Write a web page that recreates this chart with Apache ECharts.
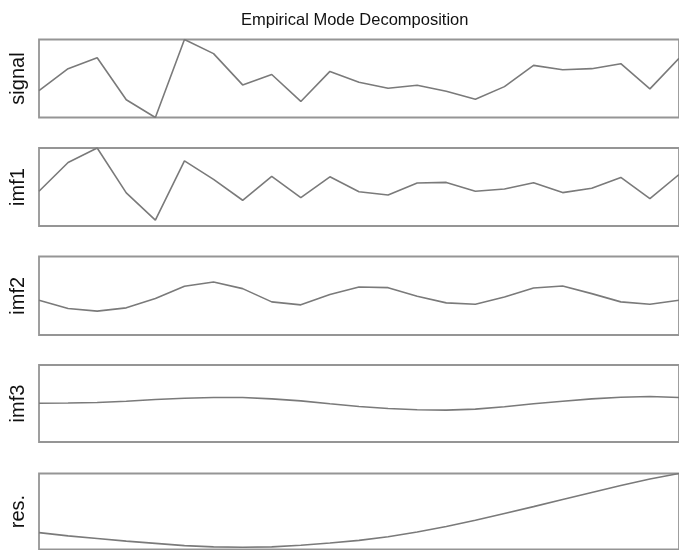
<!DOCTYPE html>
<html>
<head>
<meta charset="utf-8">
<script src="https://cdn.jsdelivr.net/npm/echarts@6/dist/echarts.min.js"></script>
<style>
html,body{margin:0;padding:0;background:#fff;}
#chart{width:679px;height:550px;}
</style>
</head>
<body>
<div id="chart"></div>
<script>
// sample index (x)
var categories = [];
for (var k = 1; k <= 23; k++) categories.push(k);

// values (normalised panel units, 0..1)
var signal = [0.345,0.626,0.767,0.228,0.000,1.000,0.819,0.418,0.551,0.206,0.591,0.453,0.376,0.414,0.337,0.233,0.396,0.668,0.612,0.626,0.690,0.367,0.760];
var imf1   = [0.445,0.814,1.000,0.424,0.076,0.835,0.597,0.330,0.636,0.364,0.631,0.440,0.398,0.551,0.559,0.445,0.475,0.555,0.428,0.483,0.623,0.352,0.660];
var imf2   = [0.443,0.338,0.304,0.346,0.464,0.620,0.675,0.591,0.422,0.384,0.515,0.612,0.603,0.494,0.409,0.392,0.485,0.599,0.624,0.527,0.422,0.392,0.443];
var imf3   = [0.504,0.506,0.513,0.530,0.552,0.569,0.578,0.578,0.560,0.534,0.496,0.461,0.435,0.418,0.414,0.427,0.457,0.496,0.530,0.560,0.582,0.591,0.578];
var residue= [0.222,0.179,0.145,0.110,0.081,0.051,0.034,0.030,0.034,0.055,0.085,0.120,0.167,0.230,0.303,0.385,0.474,0.564,0.658,0.751,0.841,0.927,1.000];

var panelNames = ['signal','imf1','imf2','imf3','res.'];
var panelData = [signal, imf1, imf2, imf3, residue];

var tops = [39.5, 148, 256.5, 365, 473.5];
var heights = [78, 78, 78.5, 77, 76];

var grids = [], xAxes = [], yAxes = [], series = [];
for (var p = 0; p < 5; p++) {
  grids.push({
    left: 36, width: 648, top: tops[p], height: heights[p],
    show: true, borderColor: '#959595', borderWidth: 1.8, backgroundColor: 'transparent',
    containLabel: false
  });
  xAxes.push({
    type: 'category', gridIndex: p, data: categories, boundaryGap: false,
    axisLine: {show: false}, axisTick: {show: false}, axisLabel: {show: false}, splitLine: {show: false}
  });
  yAxes.push({
    type: 'value', gridIndex: p, min: 0, max: 1,
    name: panelNames[p], nameLocation: 'middle', nameRotate: 90, nameGap: 11,
    nameTextStyle: {fontFamily: 'Liberation Sans, Arial, sans-serif', fontSize: 20, color: '#111'},
    axisLine: {show: false}, axisTick: {show: false}, axisLabel: {show: false}, splitLine: {show: false}
  });
  series.push({
    type: 'line', xAxisIndex: p, yAxisIndex: p, data: panelData[p],
    symbol: 'none', smooth: false, silent: true, animation: false,
    lineStyle: {color: '#7a7a7a', width: 1.6}
  });
}

var chart = echarts.init(document.getElementById('chart'), null, {renderer: 'canvas'});
chart.setOption({
  animation: false,
  backgroundColor: '#fff',
  title: {
    text: 'Empirical Mode Decomposition',
    left: 236, top: 7,
    textStyle: {fontFamily: 'Liberation Sans, Arial, sans-serif', fontSize: 16.5, fontWeight: 'normal', color: '#111'}
  },
  grid: grids,
  xAxis: xAxes,
  yAxis: yAxes,
  series: series
});
</script>
</body>
</html>
